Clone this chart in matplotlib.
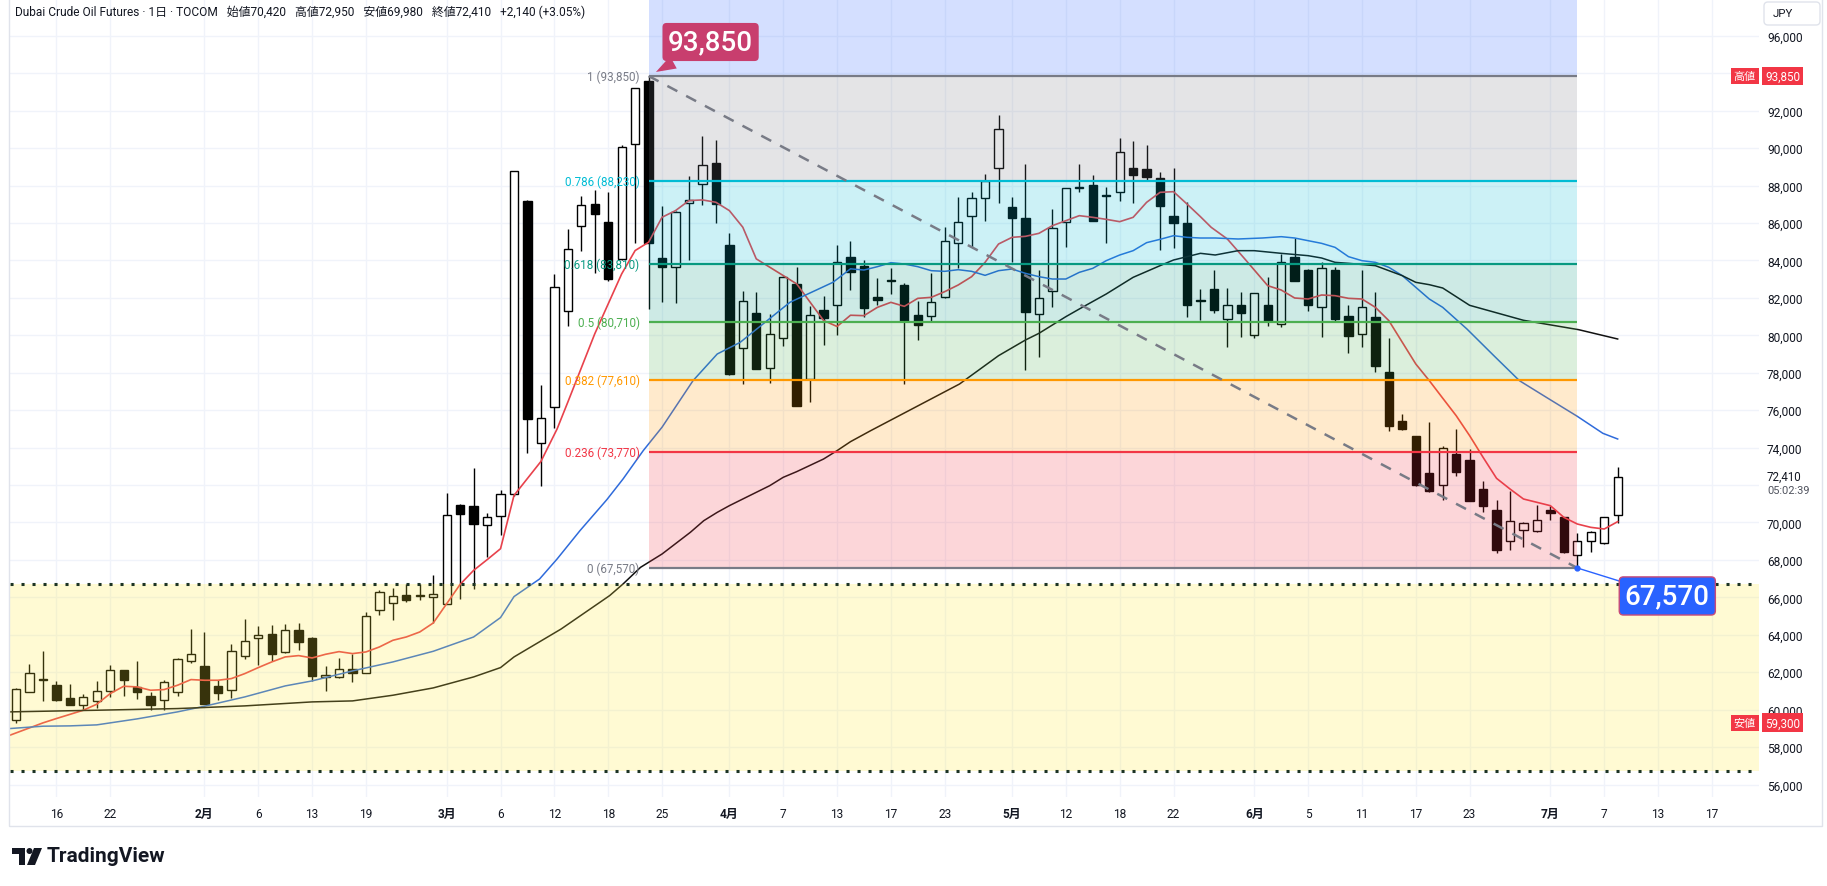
import matplotlib
matplotlib.use("Agg")
import matplotlib.pyplot as plt
import matplotlib.transforms as mtransforms
from matplotlib.patches import Rectangle, Polygon, Circle, FancyBboxPatch
from matplotlib.ticker import FuncFormatter

plt.rcParams['font.family'] = ['Roboto', 'Noto Sans CJK JP', 'DejaVu Sans']

W, H = 1827, 887

# daily bars, 2026-01-13 .. 2026-07-08 (one entry per trading day)
opens = [59472, 60967, 61650, 61340, 60647, 60273, 60451, 61020, 62105, 61234,
         60718, 60540, 60949, 62603, 62319, 61251, 61073, 62888, 63849, 64027,
         63084, 64240, 63849, 61767, 61750, 62194, 61963, 65343, 65717, 66143,
         66055, 66019, 65663, 70947, 70894, 69879, 70324, 71539, 87194, 74243,
         76164, 81323, 85842, 87016, 86073, 84081, 90218, 93598, 84134, 83672,
         87052, 88083, 89204, 84828, 79331, 81199, 78264, 79865, 82746, 77676,
         81359, 81626, 84170, 83682, 82026, 82900, 82685, 81082, 81011, 82026,
         84910, 86353, 87314, 88917, 86834, 86246, 81135, 82382, 86032, 87849,
         88027, 87457, 87635, 88917, 88864, 88383, 86353, 85979, 81848, 82454,
         80851, 81617, 79996, 81617, 80602, 84181, 83486, 81492, 83486, 81029,
         80050, 80958, 78020, 75402, 74601, 72625, 72019, 73640, 73337, 71788,
         70666, 68992, 69598, 69526, 70666, 70274, 68262, 68992, 68885, 70420]
highs = [61150, 62426, 63119, 61518, 61394, 60860, 61518, 62372, 62120, 62603,
         60931, 61607, 62750, 64293, 64133, 61571, 63493, 64827, 64453, 64507,
         64560, 64632, 63870, 62319, 62781, 62959, 65218, 66410, 66482, 66695,
         66731, 67176, 71569, 70960, 72921, 70520, 71748, 88800, 87250, 77320,
         83280, 85682, 87461, 87763, 87639, 90183, 93230, 93850, 86927, 86650,
         88528, 90663, 90432, 85468, 82391, 82337, 81145, 83150, 83672, 81590,
         82124, 84828, 85024, 84020, 83059, 83593, 82774, 81848, 83308, 85765,
         87368, 87635, 88614, 91766, 87368, 89149, 83486, 86745, 87880, 89149,
         88561, 87902, 90538, 90377, 90164, 88703, 88935, 87101, 82471, 83486,
         82525, 82293, 82280, 83130, 84342, 85196, 83520, 83896, 83629, 81617,
         83486, 82293, 79836, 75794, 74630, 75349, 74103, 74993, 73924, 72198,
         71200, 71699, 70043, 70933, 70897, 70300, 69437, 69562, 70250, 72950]
lows = [59300, 60950, 60468, 60468, 60250, 59970, 60095, 60682, 60736, 60575,
        60006, 60006, 60736, 62514, 60300, 60504, 60629, 62710, 62372, 62603,
        63030, 63173, 61536, 61002, 61678, 61483, 61940, 65076, 64774, 65734,
        65877, 64631, 65640, 65912, 66446, 68154, 69328, 71400, 73709, 71930,
        75061, 80469, 84490, 83316, 82924, 84000, 84917, 81412, 81768, 81715,
        84028, 86963, 85984, 77900, 77410, 78180, 77445, 79402, 76200, 76431,
        79455, 79989, 82426, 80993, 81634, 82204, 77396, 79747, 80779, 82000,
        83593, 84732, 86121, 87047, 83931, 78144, 78820, 81527, 84732, 87635,
        86100, 84928, 87190, 87083, 88294, 84572, 84661, 80993, 80833, 81207,
        79391, 79925, 79836, 80513, 80459, 82890, 81314, 79925, 80780, 79035,
        79355, 78020, 74903, 74960, 71930, 71610, 71218, 72500, 71140, 70577,
        68351, 68547, 68707, 69500, 70149, 68380, 67570, 68404, 68860, 69980]
closes = [61127, 61981, 61600, 60540, 60273, 60682, 61020, 62141, 61607, 60949,
          60237, 61500, 62728, 62995, 60326, 60896, 63155, 63689, 63991, 62995,
          64276, 63618, 61803, 61874, 62177, 61963, 65023, 66286, 66072, 65859,
          66070, 66197, 70413, 70467, 69933, 70289, 71534, 88760, 75524, 75595,
          82604, 84615, 86963, 86482, 83013, 90076, 93189, 84917, 83672, 86607,
          87230, 89098, 87016, 77943, 81822, 78210, 80078, 83102, 76218, 81092,
          80932, 83903, 83369, 81438, 81901, 82880, 80744, 80566, 81759, 85017,
          86032, 87314, 88223, 91018, 86246, 81260, 81972, 85712, 87849, 87870,
          86121, 87440, 89772, 88579, 88436, 86923, 85979, 81598, 81830, 81367,
          81617, 81173, 82240, 80780, 83932, 82917, 81634, 83593, 80869, 79978,
          81492, 78376, 75135, 74992, 72019, 71699, 73978, 72678, 71165, 70897,
          68547, 70060, 69954, 70131, 70488, 68404, 69028, 69473, 70270, 72410]

# moving averages (bar index, price)
red_idx = [-0.45, 2, 3, 5, 6, 7, 8, 9, 10, 11, 12, 13, 14, 15, 16, 17, 18, 19, 20, 21,
           22, 23, 24, 25, 26, 27, 28, 29, 30, 31, 32, 33, 34, 35, 36, 37, 39, 40.2, 41, 43,
           44, 45, 46, 47, 48, 49, 50, 51, 52, 53, 54, 55, 56, 57, 58, 59, 60, 61, 62, 63,
           64, 65, 66, 67, 68, 69, 70, 71, 72, 73, 74, 75, 76, 77, 78, 79, 80, 81, 82, 83,
           84, 85, 86, 87, 88, 88.8, 90, 91.3, 93, 94, 95, 96, 97, 98, 99, 100, 101, 102, 103, 104,
           105, 106, 107, 108, 109, 110, 111, 112, 113, 114, 115, 116, 117, 118, 119]
red_val = [58636, 59294, 59526, 59970, 60291, 60860, 61251, 61216, 61038, 61073, 61305, 61607,
           61571, 61571, 61660, 61927, 62248, 62550, 62817, 62888, 62763, 62959, 63101, 62995,
           63084, 63350, 63706, 63884, 64151, 64631, 65663, 66695, 67442, 68011, 68599, 71445,
           73260, 74993, 76431, 80078, 81679, 83280, 84526, 84970, 86304, 86660, 87194, 87230,
           87105, 86660, 85771, 84081, 83636, 83191, 82746, 81768, 80789, 80469, 81070, 81047,
           81492, 81759, 81545, 81972, 82026, 82329, 82685, 83130, 83896, 84875, 85231, 85285,
           85445, 85854, 86121, 86389, 86300, 86193, 86068, 86300, 87101, 87635, 87671, 87012,
           86335, 85766, 85143, 84074, 82650, 82418, 81991, 81938, 82151, 82115, 81973, 81938,
           81492, 80780, 79623, 78466, 77580, 76640, 75706, 74637, 73480, 72358, 71788, 71254,
           71076, 70897, 70274, 69918, 69740, 69651, 70043]
blue_idx = [-0.45, 2, 4, 6, 9, 12, 14, 17, 20, 22, 25, 28, 31, 34, 36, 37, 38.9, 40.2, 41.9,
            43.9, 45.1, 46.6, 48, 50.3, 52.1, 53.8, 57.5, 60.7, 62, 63, 64, 65, 66, 67, 68,
            69, 70, 71, 72, 73, 74, 75, 76, 77, 78, 79, 80, 81, 82, 83, 84, 85, 86, 87, 88,
            89.1, 90.8, 92.6, 94, 95, 96, 97, 98, 99, 100, 101, 102, 103, 104, 105, 106,
            107.8, 109.8, 111.7, 113.7, 116, 117.9, 119]
blue_val = [58992, 59117, 59134, 59188, 59508, 59882, 60184, 60682, 61269, 61536, 62070,
            62550, 63119, 63884, 64920, 66040, 66980, 68048, 69562, 71220, 72322, 73836,
            75090, 77575, 79000, 79620, 81760, 82830, 83550, 83486, 83664, 83878, 83807,
            83664, 83450, 83415, 83504, 83415, 83201, 83450, 83539, 83308, 83130, 83005,
            83005, 83361, 83575, 83985, 84287, 84519, 84947, 85125, 85320, 85231, 85195,
            85196, 85143, 85196, 85267, 85196, 85053, 84911, 84697, 84199, 83985, 83896,
            83629, 83184, 82561, 81938, 81492, 80335, 78910, 77575, 76685, 75670, 74762, 74459]
black_idx = [-0.45, 6, 12, 17, 22, 25, 28, 31, 34, 36, 37, 40.5, 44.1, 45.1, 46.4, 48,
             50.1, 51.1, 52.1, 53, 54, 56, 57, 58, 60, 61, 62, 63.5, 70.1, 73, 75, 76, 78,
             79, 81, 83, 85, 86, 87, 88, 89.1, 90.8, 92, 94, 96, 97, 98, 99, 101, 102, 103,
             104, 105, 106, 108, 112, 116.1, 119]
black_val = [59882, 59970, 60059, 60202, 60415, 60468, 60771, 61162, 61749, 62248, 62817,
             64309, 66090, 66713, 67603, 68316, 69473, 70096, 70541, 70897, 71254, 71966,
             72411, 72714, 73390, 73836, 74316, 74904, 77396, 78910, 79747, 80103, 80993,
             81403, 82204, 83095, 83718, 84020, 84198, 84377, 84288, 84519, 84519, 84377,
             84252, 84128, 83896, 83843, 83718, 83451, 83184, 82828, 82703, 82525, 81600,
             80800, 80299, 79801]

tick_pos = [3, 7, 14, 18, 22, 26, 32, 36, 40, 44, 48, 53, 57, 61, 65, 69, 74, 78, 82, 86,
            92, 96, 100, 104, 108, 114, 118, 122, 126]
tick_lab = ['16', '22', '2月', '6', '13', '19', '3月', '6', '12', '18', '25', '4月', '7', '13',
            '17', '23', '5月', '12', '18', '22', '6月', '5', '11', '17', '23', '7月', '7', '13', '17']

price_ticks = list(range(56000, 96001, 2000))
hidden_tick = 72000   # covered by the last-price label on the scale

fib_ratio = ['1', '0.786', '0.618', '0.5', '0.382', '0.236', '0']
fib_price = [93850, 88230, 83810, 80710, 77610, 73770, 67570]
fib_color = ['#787b86', '#00bcd4', '#089981', '#4caf50', '#ff9800', '#f23645', '#787b86']
fib_ext_price = 110090   # 1.618 level, off the top
fib_start, fib_end = 47, 116

zone_top, zone_bot = 66700, 56700
hi_price, lo_price = 93850, 59300
last_price = 72410

header = ("Dubai Crude Oil Futures · 1日 · TOCOM   始値70,420   高値72,950   "
          "安値69,980   終値72,410   +2,140 (+3.05%)")

TXT = '#131722'

fig = plt.figure(figsize=(W / 100, H / 100), dpi=100)
fig.patch.set_facecolor('white')
ax = fig.add_axes([10 / W, 1 - 798 / H, 1749 / W, 798 / H])
ax.set_xlim(-0.446, 129.5)
ax.set_ylim(55335, 97963)
for s in ax.spines.values():
    s.set_visible(False)

# grid + axes
ax.set_yticks(price_ticks)
ax.yaxis.tick_right()
ax.yaxis.set_major_formatter(FuncFormatter(
    lambda v, p: '' if int(v) == hidden_tick else f"{int(v):,}"))
ax.tick_params(axis='y', length=0, pad=5.8, labelsize=8.6, labelcolor=TXT)
ax.set_xticks(tick_pos)
ax.set_xticklabels(tick_lab)
ax.tick_params(axis='x', length=0, pad=7, labelsize=8.6, labelcolor=TXT)
for lab in ax.get_xticklabels():
    if '月' in lab.get_text():
        lab.set_fontweight('bold')
ax.grid(True, color='#f0f3fa', lw=1)
ax.set_axisbelow(True)

# candles
bw = 0.62
for i in range(len(opens)):
    o, h, l, c = opens[i], highs[i], lows[i], closes[i]
    ax.vlines(i, l, h, color='black', lw=1, zorder=2)
    up = c >= o
    bot = min(o, c)
    hgt = max(abs(c - o), 55)
    ax.add_patch(Rectangle((i - bw / 2, bot), bw, hgt, facecolor='white' if up else 'black',
                           edgecolor='black', lw=1, zorder=3))

# moving averages
ax.plot(red_idx, red_val, color='#e8424c', lw=1.2, zorder=3.5)
ax.plot(blue_idx, blue_val, color='#2f6bdb', lw=1.1, zorder=3.5)
ax.plot(black_idx, black_val, color='#111111', lw=1.1, zorder=3.5)

# yellow zone
ax.axhspan(zone_bot, zone_top, color='#ffeb3b', alpha=0.22, lw=0, zorder=4)
for yv in (zone_top, zone_bot):
    ax.axhline(yv, color='#1c3324', lw=2.2, ls=(0, (1, 2.6)), zorder=5)

# fib retracement
ax.fill_between([fib_start, fib_end], fib_price[0], fib_ext_price, color='#2962ff',
                alpha=0.2, lw=0, zorder=4)
for k in range(len(fib_price) - 1):
    ax.fill_between([fib_start, fib_end], fib_price[k + 1], fib_price[k], color=fib_color[k],
                    alpha=0.2, lw=0, zorder=4)
for r, p, col in zip(fib_ratio, fib_price, fib_color):
    ax.hlines(p, fib_start, fib_end, color=col, lw=1.6, zorder=5)
    ax.annotate(f"{r} ({p:,})", xy=(fib_start, p), xytext=(-9, 0), textcoords='offset pixels',
                ha='right', va='center', fontsize=8.4, color=col, zorder=7)
ax.plot([fib_start, fib_end], [fib_price[0], fib_price[-1]], color='#787b86', lw=1.8,
        ls=(0, (4.5, 4)), zorder=6)

# callouts
ax.annotate(f"{hi_price:,}", xy=(fib_start, hi_price), xytext=(62, 34),
            textcoords='offset pixels', ha='center', va='center', fontsize=20,
            color='white', fontweight='medium', zorder=8,
            bbox=dict(boxstyle='round,pad=0.2,rounding_size=0.15', fc='#c83e6e', ec='none'),
            arrowprops=dict(arrowstyle='wedge,tail_width=0.5,shrink_factor=0.5',
                            fc='#c83e6e', ec='none', shrinkB=6))
ax.plot(fib_end, fib_price[-1], 'o', ms=3.5, color='#2962ff', zorder=8)
ax.annotate(f"{fib_price[-1]:,}", xy=(fib_end, fib_price[-1]), xytext=(90, -28),
            textcoords='offset pixels', ha='center', va='center', fontsize=20,
            color='white', fontweight='medium', zorder=8,
            bbox=dict(boxstyle='round,pad=0.2,rounding_size=0.15', fc='#2962ff',
                      ec='#c84a78', lw=1),
            arrowprops=dict(arrowstyle='-', color='#2962ff', lw=1, shrinkA=0, shrinkB=0))

# price-scale labels
ytr = ax.get_yaxis_transform()
t_left = mtransforms.offset_copy(ytr, fig=fig, x=-3, y=0, units='dots')
t_right = mtransforms.offset_copy(ytr, fig=fig, x=6, y=0, units='dots')
for name, val in (('高値', hi_price), ('安値', lo_price)):
    ax.text(1.0, val, name, transform=t_left, ha='right', va='center', fontsize=8,
            color='white', clip_on=False, zorder=9,
            bbox=dict(boxstyle='square,pad=0.25', fc='#f23645', ec='none'))
    ax.text(1.0, val, f"{val:,}", transform=t_right, ha='left', va='center', fontsize=8.4,
            color='white', clip_on=False, zorder=9,
            bbox=dict(boxstyle='square,pad=0.25', fc='#f23645', ec='none'))
t_last = mtransforms.offset_copy(ytr, fig=fig, x=8, y=1, units='dots')
t_cnt = mtransforms.offset_copy(ytr, fig=fig, x=8, y=-13, units='dots')
ax.text(1.0, last_price, f"{last_price:,}", transform=t_last, ha='left', va='center',
        fontsize=8.3, color=TXT, clip_on=False)
ax.text(1.0, last_price, "05:02:39", transform=t_cnt, ha='left', va='center',
        fontsize=7.9, color='#50535e', clip_on=False)

# page furniture, in output pixels
px = mtransforms.IdentityTransform()
fig.add_artist(Rectangle((9, H - 827), 1813, 827 + 2, fill=False, ec='#e0e3eb', lw=1,
                         transform=px))
fig.add_artist(FancyBboxPatch((1764, H - 26), 56, 23, boxstyle='round,pad=0,rounding_size=4',
                              fc='white', ec='#e0e3eb', lw=1, transform=px))
fig.text(1773, H - 14.5, 'JPY', transform=px, ha='left', va='center', fontsize=8.2, color=TXT)
fig.text(15, H - 12, header, transform=px, ha='left', va='center', fontsize=8.6, color=TXT)

logo = '#131722'
fig.add_artist(Rectangle((12, H - 855), 13, 6, fc=logo, ec='none', transform=px))
fig.add_artist(Rectangle((19, H - 866), 6, 17, fc=logo, ec='none', transform=px))
fig.add_artist(Circle((29.5, H - 852), 3, fc=logo, ec='none', transform=px))
fig.add_artist(Polygon([(34, H - 849), (42, H - 849), (35, H - 866), (27, H - 866)],
                       closed=True, fc=logo, ec='none', transform=px))
fig.text(47, H - 857, 'TradingView', transform=px, ha='left', va='center', fontsize=15,
         fontweight='bold', color=logo)

fig.savefig('out.png', dpi=100)
